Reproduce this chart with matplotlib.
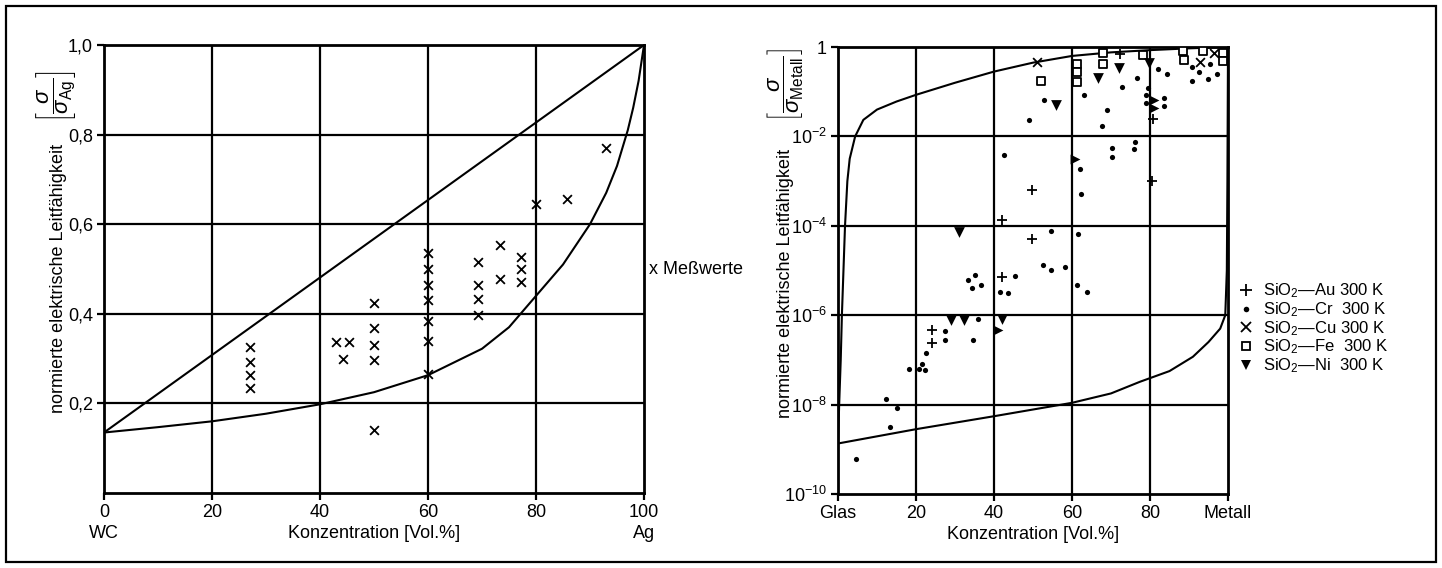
import matplotlib
matplotlib.use("Agg")
import matplotlib.pyplot as plt
import numpy as np
from matplotlib.patches import Rectangle
from matplotlib.lines import Line2D

plt.rcParams['font.family'] = ['Liberation Sans', 'DejaVu Sans']
plt.rcParams['mathtext.fontset'] = 'custom'
plt.rcParams['mathtext.rm'] = 'Liberation Sans'
plt.rcParams['mathtext.it'] = 'Liberation Sans:italic'
plt.rcParams['mathtext.bf'] = 'Liberation Sans:bold'

# ---------------- left chart data (WC - Ag) ----------------
left_xticks = [0, 20, 40, 60, 80, 100]
left_yticks = [0.2, 0.4, 0.6, 0.8, 1.0]
left_yticklabels = ["0,2", "0,4", "0,6", "0,8", "1,0"]

upper_bound_x = [0, 100]
upper_bound_y = [0.135, 1.0]
lower_bound_x = [0, 10, 20, 30, 40, 50, 60, 70, 75, 80, 85, 90, 93, 95, 97, 98, 99, 100]
lower_bound_y = [0.135, 0.147, 0.160, 0.177, 0.198, 0.225, 0.263, 0.322, 0.37, 0.44,
                 0.51, 0.60, 0.67, 0.73, 0.81, 0.86, 0.92, 1.0]

mess_x = [27, 27, 27, 27, 43, 45.4, 44.2, 50, 50, 50, 50, 50,
          60, 60, 60, 60, 60, 60, 60, 69.3, 69.3, 69.3, 69.3,
          73.3, 73.3, 77.3, 77.3, 77.3, 80, 85.7, 93]
mess_y = [0.327, 0.293, 0.263, 0.234, 0.336, 0.336, 0.30, 0.425, 0.369, 0.330, 0.297, 0.141,
          0.535, 0.50, 0.465, 0.43, 0.385, 0.34, 0.265, 0.515, 0.465, 0.432, 0.398,
          0.553, 0.478, 0.527, 0.50, 0.472, 0.645, 0.657, 0.771]

# ---------------- right chart data (SiO2 - metal), y as log10 ----------------
right_xticks = [0, 20, 40, 60, 80, 100]
right_xticklabels = ["Glas", "20", "40", "60", "80", "Metall"]
right_ytick_exp = [0, -2, -4, -6, -8, -10]

upper_curve_x = [0, 0.3, 0.7, 1.0, 1.4, 1.8, 2.4, 3.0, 4.4, 6.5, 10, 15, 20, 30, 40, 50, 60, 70, 80, 90, 100]
upper_curve_log = [-8.9, -8.0, -7.0, -6.0, -5.0, -4.0, -3.0, -2.5, -2.0, -1.63, -1.4, -1.22,
                   -1.07, -0.8, -0.55, -0.35, -0.2, -0.12, -0.07, -0.03, 0.0]
lower_curve_x = [0, 20, 40, 60, 70, 77.4, 85, 91, 95, 98, 99.3, 99.7, 99.85, 100]
lower_curve_log = [-8.87, -8.55, -8.26, -7.96, -7.75, -7.49, -7.25, -6.93, -6.6, -6.3,
                   -6.0, -5.0, -3.0, 0.0]

au_x = [24.0, 24.0, 42.0, 49.8, 42.0, 49.8, 80.4, 80.7, 72.3]
au_log = [-6.32, -6.63, -5.15, -4.30, -3.87, -3.21, -3.0, -1.62, -0.16]

cr_x = [4.6, 13.3, 12.3, 15.2, 18.3, 20.8, 22.4, 21.5, 22.6, 27.4, 27.4, 34.7, 36.0,
        33.4, 35.1, 34.3, 36.6, 41.5, 43.5, 45.4, 52.6, 54.6, 58.2, 54.5, 61.5, 61.2,
        63.8, 62.2, 62.1, 42.6, 49.0, 52.8, 63.2, 67.6, 69.1, 70.2, 70.2, 72.9, 76.6,
        76.0, 76.2, 78.9, 78.9, 79.4, 82.1, 84.3, 83.7, 83.7, 90.7, 92.6, 90.7, 94.8,
        95.4, 97.1]
cr_log = [-9.22, -8.49, -7.87, -8.07, -7.20, -7.21, -7.23, -7.09, -6.85, -6.35, -6.55,
          -6.55, -6.09, -5.21, -5.10, -5.39, -5.32, -5.47, -5.51, -5.12, -4.88, -4.99,
          -4.92, -4.11, -4.18, -5.32, -5.47, -3.29, -2.74, -2.42, -1.63, -1.19, -1.07,
          -1.77, -1.41, -2.27, -2.45, -0.89, -0.70, -2.29, -2.12, -1.07, -1.25, -0.92,
          -0.50, -0.60, -1.13, -1.31, -0.44, -0.55, -0.75, -0.72, -0.38, -0.61]

cu_x = [50.9, 92.8, 96.4]
cu_log = [-0.33, -0.33, -0.14]

fe_x = [52.0, 61.4, 61.4, 61.4, 68.0, 68.0, 78.3, 88.4, 88.6, 93.7, 98.6, 98.6]
fe_log = [-0.75, -0.37, -0.57, -0.79, -0.14, -0.39, -0.18, -0.10, -0.29, -0.10, -0.13, -0.31]

ni_x = [29.1, 32.3, 42.0, 31.1, 55.8, 66.6, 72.1, 79.8]
ni_log = [-6.11, -6.11, -6.09, -4.13, -1.30, -0.70, -0.48, -0.35]
ni_side_x = [41.1, 60.8, 80.9, 80.9]
ni_side_log = [-6.32, -2.51, -1.19, -1.37]

legend_labels = ["SiO$_2$—Au 300 K", "SiO$_2$—Cr  300 K", "SiO$_2$—Cu 300 K",
                 "SiO$_2$—Fe  300 K", "SiO$_2$—Ni  300 K"]

# ---------------- figure ----------------
W, H = 1442, 568
fig = plt.figure(figsize=(W / 100, H / 100), dpi=100)
fig.patch.set_facecolor('white')
fig.add_artist(Rectangle((6 / W, 6 / H), 1 - 12 / W, 1 - 12 / H, transform=fig.transFigure,
                         fill=False, lw=1.6, ec='black'))

FS = 13
k = 'black'
GLW = 1.6

# ---- left axes ----
ax1 = fig.add_axes([104 / W, 1 - 493 / H, 540 / W, 448 / H])
ax1.set_xlim(0, 100)
ax1.set_ylim(0, 1.0)
for v in [20, 40, 60, 80]:
    ax1.axvline(v, color=k, lw=GLW, zorder=1)
for v in [0.2, 0.4, 0.6, 0.8]:
    ax1.axhline(v, color=k, lw=GLW, zorder=1)
ax1.plot(upper_bound_x, upper_bound_y, color=k, lw=1.5, zorder=2)
ax1.plot(lower_bound_x, lower_bound_y, color=k, lw=1.5, zorder=2)
ax1.scatter(mess_x, mess_y, marker='x', s=40, color=k, linewidths=1.3, zorder=3)
ax1.set_xticks(left_xticks)
ax1.set_xticklabels([str(v) for v in left_xticks], fontsize=FS)
ax1.set_yticks(left_yticks)
ax1.set_yticklabels(left_yticklabels, fontsize=FS)
ax1.tick_params(direction='out', length=5, width=1.6, pad=3)
for s in ax1.spines.values():
    s.set_linewidth(2.0)
ax1.set_xlabel("Konzentration [Vol.%]", fontsize=FS, labelpad=3)
ax1.set_ylabel("normierte elektrische Leitfähigkeit", fontsize=FS)
ax1.yaxis.set_label_coords(-0.068, 0.48)
ax1.text(-0.088, 0.885, r"$\left[\dfrac{\sigma}{\sigma_{\mathrm{Ag}}}\right]$", rotation=90,
         transform=ax1.transAxes, ha='center', va='center', fontsize=16)
ax1.text(0, -0.072, "WC", transform=ax1.get_xaxis_transform(), ha='center', va='top', fontsize=FS)
ax1.text(100, -0.072, "Ag", transform=ax1.get_xaxis_transform(), ha='center', va='top', fontsize=FS)
ax1.text(100.9, 0.5, "x Meßwerte", ha='left', va='center', fontsize=FS, clip_on=False)

# ---- right axes ----
ax2 = fig.add_axes([838 / W, 1 - 494 / H, 390 / W, 447 / H])
ax2.set_yscale('log')
ax2.set_xlim(0, 100)
ax2.set_ylim(1e-10, 1)
for v in [20, 40, 60, 80]:
    ax2.axvline(v, color=k, lw=GLW, zorder=1)
for e in [-2, -4, -6, -8]:
    ax2.axhline(10.0 ** e, color=k, lw=GLW, zorder=1)
ax2.plot(upper_curve_x, 10.0 ** np.array(upper_curve_log), color=k, lw=1.5, zorder=2)
ax2.plot(lower_curve_x, 10.0 ** np.array(lower_curve_log), color=k, lw=1.5, zorder=2)
ax2.scatter(au_x, 10.0 ** np.array(au_log), marker='+', s=55, color=k, linewidths=1.3, zorder=3)
ax2.scatter(cr_x, 10.0 ** np.array(cr_log), marker='o', s=14, color=k, linewidths=0, zorder=3)
ax2.scatter(cu_x, 10.0 ** np.array(cu_log), marker='x', s=40, color=k, linewidths=1.3, zorder=3)
ax2.scatter(fe_x, 10.0 ** np.array(fe_log), marker='s', s=38, facecolor='white', edgecolor=k,
            linewidths=1.3, zorder=3)
ax2.scatter(ni_x, 10.0 ** np.array(ni_log), marker='v', s=60, color=k, linewidths=0, zorder=3)
ax2.scatter(ni_side_x, 10.0 ** np.array(ni_side_log), marker='>', s=50, color=k, linewidths=0, zorder=3)
ax2.set_xticks(right_xticks)
ax2.set_xticklabels(right_xticklabels, fontsize=FS)
ax2.set_yticks([10.0 ** e for e in right_ytick_exp])
ax2.set_yticklabels(["1" if e == 0 else r"$10^{%d}$" % e for e in right_ytick_exp], fontsize=FS)
ax2.minorticks_off()
ax2.tick_params(direction='out', length=5, width=1.6, pad=3)
for s in ax2.spines.values():
    s.set_linewidth(2.0)
ax2.set_xlabel("Konzentration [Vol.%]", fontsize=FS, labelpad=3)
ax2.set_ylabel("normierte elektrische Leitfähigkeit", fontsize=FS)
ax2.yaxis.set_label_coords(-0.112, 0.47)
ax2.text(-0.135, 0.915, r"$\left[\dfrac{\sigma}{\sigma_{\mathrm{Metall}}}\right]$", rotation=90,
         transform=ax2.transAxes, ha='center', va='center', fontsize=16)

# legend
handles = [Line2D([], [], ls='none', marker='+', ms=8, mew=1.3, color=k),
           Line2D([], [], ls='none', marker='o', ms=4, mew=0, color=k),
           Line2D([], [], ls='none', marker='x', ms=6.5, mew=1.3, color=k),
           Line2D([], [], ls='none', marker='s', ms=6, mew=1.3, mfc='white', mec=k),
           Line2D([], [], ls='none', marker='v', ms=7.5, mew=0, color=k)]
ax2.legend(handles, legend_labels, loc='upper left', bbox_to_anchor=(1.03, 0.475),
           frameon=False, fontsize=12, labelspacing=0.0, handlelength=0.8,
           handletextpad=0.6, borderpad=0, borderaxespad=0)

fig.savefig("out.png", dpi=100, facecolor='white')
